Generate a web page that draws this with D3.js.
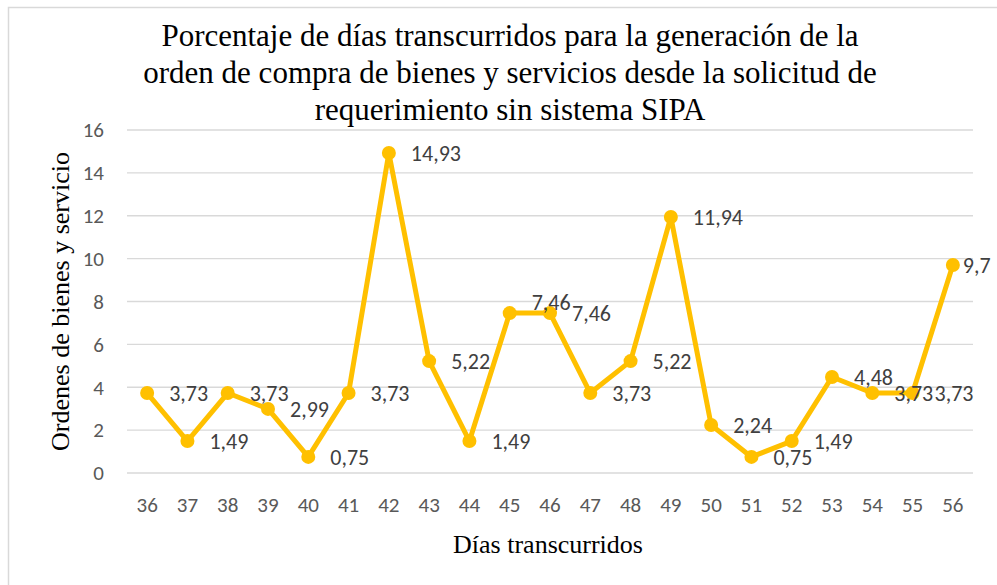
<!DOCTYPE html>
<html lang="es">
<head>
<meta charset="UTF-8">
<title>Porcentaje de días transcurridos</title>
<script src="https://cdn.jsdelivr.net/npm/d3@7"></script>
<style>
    body { margin: 0; background: #fff; }
</style>
</head>
<body>
<svg id="chart" width="997" height="585"></svg>
<script>
    const days = ["36","37","38","39","40","41","42","43","44","45","46","47","48","49","50","51","52","53","54","55","56"];
    const values = [3.73,1.49,3.73,2.99,0.75,3.73,14.93,5.22,1.49,7.46,7.46,3.73,5.22,11.94,2.24,0.75,1.49,4.48,3.73,3.73,9.7];
    const yTicks = [0,2,4,6,8,10,12,14,16];
    const titleLines = [
        "Porcentaje de días transcurridos para la generación de la",
        "orden de compra de bienes y servicios desde la solicitud de",
        "requerimiento sin sistema SIPA"
    ];

    const svg = d3.select('#chart');
    const plotLeft = 127, plotRight = 973, plotTop = 130, plotBottom = 473;
    const serif = "'Liberation Serif', 'Times New Roman', serif";
    const tickFont = "Carlito, Lato, sans-serif";

    // chart border (only left and top edges are visible, the rest is cropped)
    svg.append('path')
        .attr('d', 'M8.5,585 V7.5 H997')
        .attr('fill', 'none').attr('stroke', '#d9d9d9').attr('stroke-width', 1.5);

    const x = d3.scaleBand().domain(days).range([plotLeft, plotRight]);
    const y = d3.scaleLinear().domain([0, 16]).range([plotBottom, plotTop]);

    // gridlines
    svg.append('g').selectAll('line').data(yTicks).join('line')
        .attr('x1', plotLeft).attr('x2', plotRight)
        .attr('y1', d => y(d)).attr('y2', d => y(d))
        .attr('stroke', '#d9d9d9').attr('stroke-width', 1.3);

    // y ticks
    svg.append('g').selectAll('text').data(yTicks).join('text')
        .attr('x', 104).attr('y', d => y(d)).attr('dy', '0.35em')
        .attr('text-anchor', 'end')
        .attr('font-family', tickFont).attr('font-size', 21)
        .attr('fill', '#595959')
        .text(d => d);

    // x ticks
    svg.append('g').selectAll('text').data(days).join('text')
        .attr('x', d => x(d) + x.bandwidth() / 2).attr('y', 505).attr('dy', '0.35em')
        .attr('text-anchor', 'middle')
        .attr('font-family', tickFont).attr('font-size', 21)
        .attr('fill', '#595959')
        .text(d => d);

    const cx = (d, i) => x(days[i]) + x.bandwidth() / 2;

    // line
    const line = d3.line()
        .x((d, i) => cx(d, i))
        .y(d => y(d));
    svg.append('path').datum(values)
        .attr('d', line)
        .attr('fill', 'none').attr('stroke', '#ffc000')
        .attr('stroke-width', 5).attr('stroke-linejoin', 'round');

    svg.append('g').selectAll('circle').data(values).join('circle')
        .attr('cx', cx).attr('cy', d => y(d)).attr('r', 7)
        .attr('fill', '#ffc000');

    // data labels to the right of each point
    // (Excel nudged 45 up and pulled 56 in so it fits)
    svg.append('g').selectAll('text').data(values).join('text')
        .attr('x', (d, i) => cx(d, i) + (days[i] === "56" ? 10 : 22))
        .attr('y', (d, i) => y(d) + (days[i] === "45" ? -11 : 0))
        .attr('dy', '0.35em')
        .attr('font-family', tickFont).attr('font-size', 22)
        .attr('fill', '#404040')
        .text(d => String(d).replace('.', ','));

    // title
    svg.append('text')
        .attr('x', 510).attr('y', 46)
        .attr('text-anchor', 'middle')
        .attr('font-family', serif)
        .attr('font-size', 31).attr('fill', '#000')
        .selectAll('tspan').data(titleLines).join('tspan')
        .attr('x', 510).attr('dy', (d, i) => i === 0 ? 0 : 37)
        .text(d => d);

    // axis titles
    svg.append('text')
        .attr('x', 548).attr('y', 553)
        .attr('text-anchor', 'middle')
        .attr('font-family', serif)
        .attr('font-size', 26)
        .text('Días transcurridos');

    svg.append('text')
        .attr('transform', 'translate(69,' + (plotTop + plotBottom) / 2 + ') rotate(-90)')
        .attr('text-anchor', 'middle')
        .attr('font-family', serif)
        .attr('font-size', 26)
        .text('Ordenes de bienes y servicio');
</script>
</body>
</html>
